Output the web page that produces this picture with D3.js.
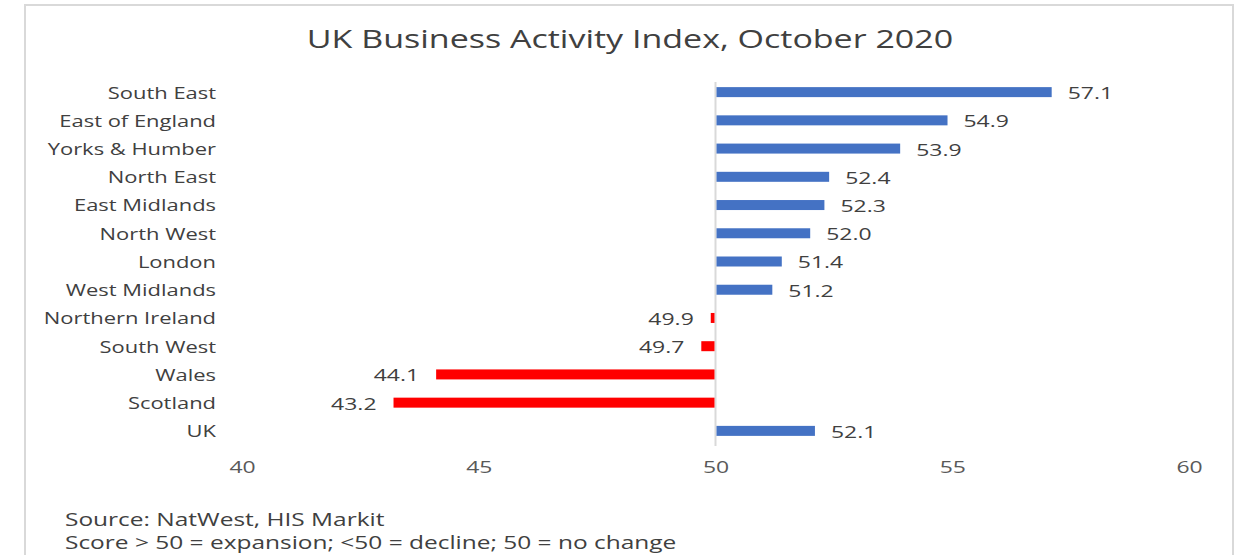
<!DOCTYPE html>
<html>
<head>
<meta charset="utf-8">
<script src="https://cdn.jsdelivr.net/npm/d3@7"></script>
<style>
  body { margin: 0; background: #fff; }
  svg text { font-family: "Open Sans", "Liberation Sans", sans-serif; }
</style>
</head>
<body>
<svg id="chart" width="1243" height="555"></svg>
<script>
// chart data
let regions = ['South East', 'East of England', 'Yorks & Humber', 'North East', 'East Midlands',
               'North West', 'London', 'West Midlands', 'Northern Ireland', 'South West',
               'Wales', 'Scotland', 'UK'];
let scores = [57.1, 54.9, 53.9, 52.4, 52.3, 52.0, 51.4, 51.2, 49.9, 49.7, 44.1, 43.2, 52.1];
let xTicks = [40, 45, 50, 55, 60];
let baseline = 50;
let chartTitle = 'UK Business Activity Index, October 2020';
let notes = ['Source: NatWest, HIS Markit', 'Score > 50 = expansion; <50 = decline; 50 = no change'];

let svg = d3.select('#chart');

// the source image is stretched sideways, so text gets a horizontal scale
function stretch(x, sx){
    return 'translate(' + x + ',0) scale(' + sx + ',1) translate(' + (-x) + ',0)';
}

// outer frame
svg.append('rect')
    .attr('x', 25).attr('y', 5)
    .attr('width', 1208).attr('height', 570)
    .attr('fill', 'none')
    .attr('stroke', '#d9d9d9')
    .attr('stroke-width', 2);

// scales
let xScale = d3.scaleLinear().domain([40, 60]).range([242, 1189]);
let yScale = d3.scaleBand().domain(regions).range([78, 445]);
let barH = 10;

// title
svg.append('text')
    .attr('x', 630)
    .attr('y', 48)
    .attr('transform', stretch(630, 1.36))
    .style('text-anchor', 'middle')
    .style('font-size', '25px')
    .style('fill', '#404040')
    .text(chartTitle);

// baseline at 50
svg.append('line')
    .attr('x1', xScale(baseline)).attr('x2', xScale(baseline))
    .attr('y1', 82).attr('y2', 446)
    .attr('stroke', '#d9d9d9')
    .attr('stroke-width', 2);

// bars
let bars = svg.append('g').attr('id', 'bars');
bars.selectAll('rect')
    .data(scores)
    .enter()
        .append('rect')
        .attr('x', function(d){ return xScale(Math.min(d, baseline)) + (d >= baseline ? 1 : 0); })
        .attr('y', function(d, i){ return yScale(regions[i]) + yScale.bandwidth()/2 - barH/2; })
        .attr('width', function(d){ return Math.abs(xScale(d) - xScale(baseline)) - 1; })
        .attr('height', barH)
        .attr('fill', function(d){ return d >= baseline ? '#4472c4' : '#ff0000'; });

// value labels
bars.selectAll('text')
    .data(scores)
    .enter()
        .append('text')
        .text(function(d){ return d.toFixed(1); })
        .attr('x', function(d){ return d >= baseline ? xScale(d) + 16 : xScale(d) - 17; })
        .attr('y', function(d, i){ return yScale(regions[i]) + yScale.bandwidth()/2 + 1; })
        .attr('transform', function(d){ return stretch(d >= baseline ? xScale(d) + 16 : xScale(d) - 17, 1.35); })
        .attr('dy', '0.35em')
        .style('text-anchor', function(d){ return d >= baseline ? 'start' : 'end'; })
        .style('font-size', '17px')
        .style('fill', '#404040');

// category labels
let yAxis = svg.append('g')
    .attr('transform', 'translate(216,1)')
    .call(d3.axisLeft(yScale).tickSize(0).tickPadding(0));
yAxis.select('.domain').remove();
yAxis.selectAll('text')
    .attr('transform', 'scale(1.29,1)')
    .style('font-size', '17px')
    .style('fill', '#404040');

// x axis tick labels
let xAxis = svg.append('g')
    .attr('transform', 'translate(0,461)')
    .call(d3.axisBottom(xScale).tickValues(xTicks).tickSize(0).tickPadding(0));
xAxis.select('.domain').remove();
xAxis.selectAll('text')
    .attr('dy', '0.71em')
    .attr('transform', 'scale(1.35,1)')
    .style('font-size', '17px')
    .style('fill', '#595959');

// notes under the chart
svg.selectAll('.note')
    .data(notes)
    .enter()
        .append('text')
        .attr('class', 'note')
        .attr('x', 65)
        .attr('y', function(d, i){ return 526 + i * 23; })
        .attr('transform', stretch(65, 1.36))
        .style('font-size', '18px')
        .style('fill', '#404040')
        .text(function(d){ return d; });
</script>
</body>
</html>
